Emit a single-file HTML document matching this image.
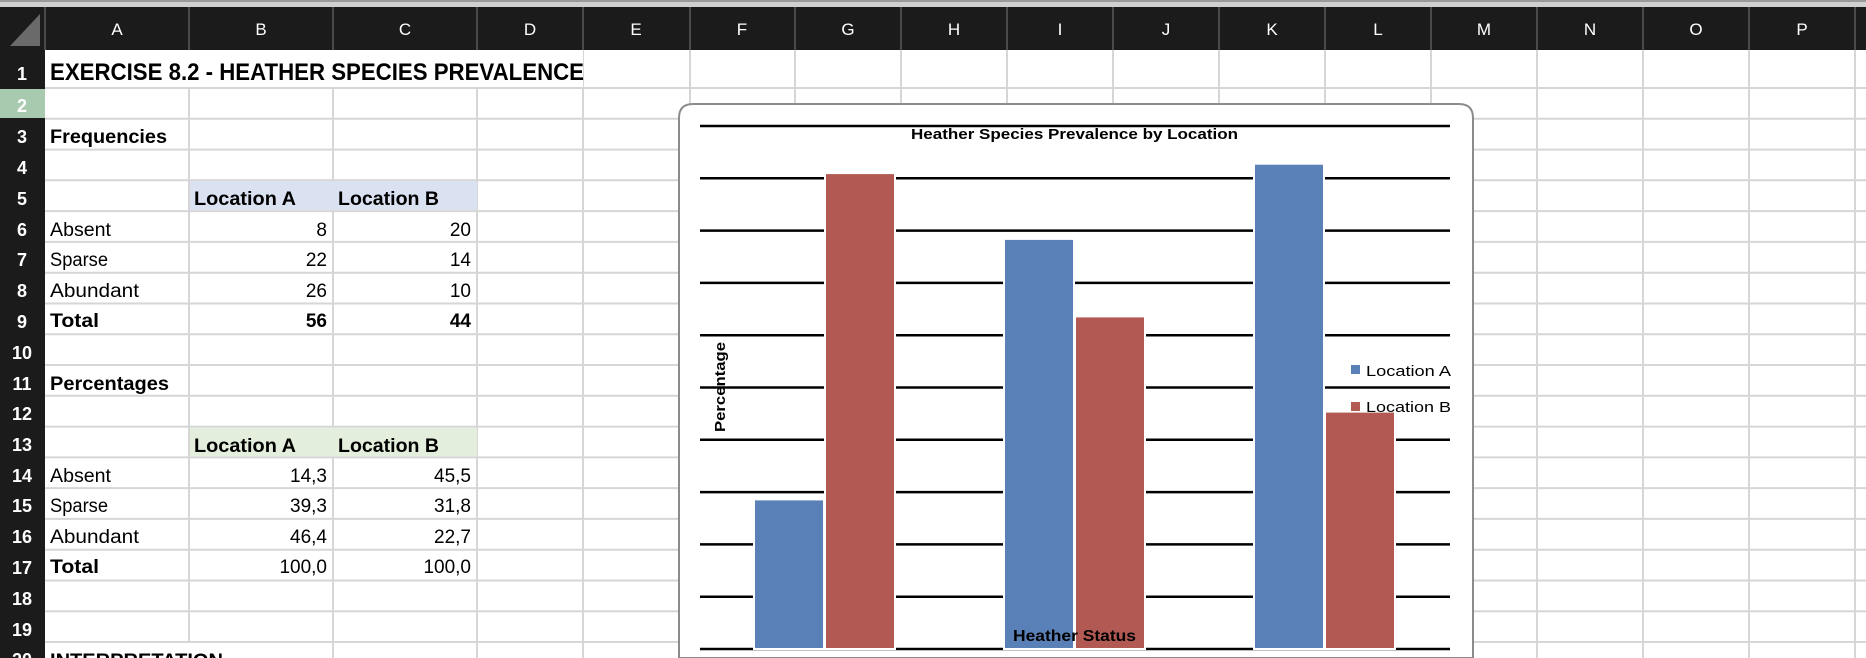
<!DOCTYPE html>
<html><head><meta charset="utf-8"><style>
html,body{margin:0;padding:0;background:#fff;overflow:hidden;width:1866px;height:658px}
svg{display:block;overflow:hidden}
text{font-family:"Liberation Sans",sans-serif}
</style></head><body>
<svg width="1866" height="658" viewBox="0 0 1866 658" xmlns="http://www.w3.org/2000/svg">
<defs><clipPath id="c"><rect x="0" y="0" width="1866" height="658"/></clipPath></defs>
<g clip-path="url(#c)">
<rect x="0" y="0" width="1866" height="658" fill="#fff"/>
<rect x="0" y="0" width="1866" height="7" fill="#d0d0d0"/>
<rect x="0" y="0" width="1866" height="2" fill="#9a9a9a"/>
<rect x="0" y="7" width="1866" height="43" fill="#1b1b1b"/>
<polygon points="10,46 40,46 40,14" fill="#6a6a6a"/>
<g stroke="#4a4a4a" stroke-width="2">
<line x1="45" y1="7" x2="45" y2="50"/><line x1="189" y1="7" x2="189" y2="50"/><line x1="333" y1="7" x2="333" y2="50"/><line x1="477" y1="7" x2="477" y2="50"/><line x1="583" y1="7" x2="583" y2="50"/><line x1="690" y1="7" x2="690" y2="50"/><line x1="795" y1="7" x2="795" y2="50"/><line x1="901" y1="7" x2="901" y2="50"/><line x1="1007" y1="7" x2="1007" y2="50"/><line x1="1113" y1="7" x2="1113" y2="50"/><line x1="1219" y1="7" x2="1219" y2="50"/><line x1="1325" y1="7" x2="1325" y2="50"/><line x1="1431" y1="7" x2="1431" y2="50"/><line x1="1537" y1="7" x2="1537" y2="50"/><line x1="1643" y1="7" x2="1643" y2="50"/><line x1="1749" y1="7" x2="1749" y2="50"/><line x1="1855" y1="7" x2="1855" y2="50"/>
</g>
<g fill="#fff" font-size="17" text-anchor="middle">
<text x="117" y="35">A</text><text x="261" y="35">B</text><text x="405" y="35">C</text><text x="530" y="35">D</text><text x="636" y="35">E</text><text x="742" y="35">F</text><text x="848" y="35">G</text><text x="954" y="35">H</text><text x="1060" y="35">I</text><text x="1166" y="35">J</text><text x="1272" y="35">K</text><text x="1378" y="35">L</text><text x="1484" y="35">M</text><text x="1590" y="35">N</text><text x="1696" y="35">O</text><text x="1802" y="35">P</text>
</g>
<rect x="0" y="50" width="45" height="608" fill="#1b1b1b"/>
<rect x="0" y="89" width="45" height="29" fill="#a8cbb0"/>
<g stroke="#d6d6d6" stroke-width="2">
<line x1="45" y1="88" x2="1866" y2="88"/><line x1="45" y1="118.8" x2="1866" y2="118.8"/><line x1="45" y1="149.6" x2="1866" y2="149.6"/><line x1="45" y1="180.3" x2="1866" y2="180.3"/><line x1="45" y1="211.1" x2="1866" y2="211.1"/><line x1="45" y1="241.9" x2="1866" y2="241.9"/><line x1="45" y1="272.7" x2="1866" y2="272.7"/><line x1="45" y1="303.5" x2="1866" y2="303.5"/><line x1="45" y1="334.2" x2="1866" y2="334.2"/><line x1="45" y1="365" x2="1866" y2="365"/><line x1="45" y1="395.8" x2="1866" y2="395.8"/><line x1="45" y1="426.6" x2="1866" y2="426.6"/><line x1="45" y1="457.4" x2="1866" y2="457.4"/><line x1="45" y1="488.1" x2="1866" y2="488.1"/><line x1="45" y1="518.9" x2="1866" y2="518.9"/><line x1="45" y1="549.7" x2="1866" y2="549.7"/><line x1="45" y1="580.5" x2="1866" y2="580.5"/><line x1="45" y1="611.3" x2="1866" y2="611.3"/><line x1="45" y1="642" x2="1866" y2="642"/>
<line x1="189" y1="50" x2="189" y2="658"/><line x1="333" y1="50" x2="333" y2="658"/><line x1="477" y1="50" x2="477" y2="658"/><line x1="583" y1="50" x2="583" y2="658"/><line x1="690" y1="50" x2="690" y2="658"/><line x1="795" y1="50" x2="795" y2="658"/><line x1="901" y1="50" x2="901" y2="658"/><line x1="1007" y1="50" x2="1007" y2="658"/><line x1="1113" y1="50" x2="1113" y2="658"/><line x1="1219" y1="50" x2="1219" y2="658"/><line x1="1325" y1="50" x2="1325" y2="658"/><line x1="1431" y1="50" x2="1431" y2="658"/><line x1="1537" y1="50" x2="1537" y2="658"/><line x1="1643" y1="50" x2="1643" y2="658"/><line x1="1749" y1="50" x2="1749" y2="658"/><line x1="1855" y1="50" x2="1855" y2="658"/>
</g>
<rect x="46" y="50" width="537" height="37" fill="#fff"/>
<rect x="46" y="643" width="286" height="15" fill="#fff"/>
<rect x="190" y="181.3" width="287" height="28.8" fill="#dae1f1"/>
<rect x="190" y="427.6" width="287" height="28.8" fill="#e3efdc"/>
<g fill="#fff" font-size="18" font-weight="bold" text-anchor="middle">
<text x="22" y="80">1</text><text x="22" y="112">2</text><text x="22" y="143">3</text><text x="22" y="174">4</text><text x="22" y="205">5</text><text x="22" y="236">6</text><text x="22" y="266">7</text><text x="22" y="297">8</text><text x="22" y="328">9</text><text x="22" y="359">10</text><text x="22" y="390">11</text><text x="22" y="420">12</text><text x="22" y="451">13</text><text x="22" y="482">14</text><text x="22" y="512">15</text><text x="22" y="543">16</text><text x="22" y="574">17</text><text x="22" y="605">18</text><text x="22" y="636">19</text><text x="22" y="666">20</text>
</g>
<g fill="#000" font-size="19">
<text x="50" y="80" font-size="24" font-weight="bold" textLength="534" lengthAdjust="spacingAndGlyphs">EXERCISE 8.2 - HEATHER SPECIES PREVALENCE</text>
<text x="50" y="143" font-weight="bold" textLength="117" lengthAdjust="spacingAndGlyphs">Frequencies</text>
<text x="194" y="205" font-weight="bold" textLength="102" lengthAdjust="spacingAndGlyphs">Location A</text>
<text x="338" y="205" font-weight="bold" textLength="101" lengthAdjust="spacingAndGlyphs">Location B</text>
<text x="50" y="236" textLength="61" lengthAdjust="spacingAndGlyphs">Absent</text>
<text x="50" y="266" textLength="58" lengthAdjust="spacingAndGlyphs">Sparse</text>
<text x="50" y="297" textLength="89" lengthAdjust="spacingAndGlyphs">Abundant</text>
<text x="50" y="327" font-weight="bold" textLength="49" lengthAdjust="spacingAndGlyphs">Total</text>
<g text-anchor="end">
<text x="327" y="236">8</text><text x="471" y="236">20</text>
<text x="327" y="266">22</text><text x="471" y="266">14</text>
<text x="327" y="297">26</text><text x="471" y="297">10</text>
<text x="327" y="327" font-weight="bold">56</text><text x="471" y="327" font-weight="bold">44</text>
<text x="327" y="482">14,3</text><text x="471" y="482">45,5</text>
<text x="327" y="512">39,3</text><text x="471" y="512">31,8</text>
<text x="327" y="543">46,4</text><text x="471" y="543">22,7</text>
<text x="327" y="573">100,0</text><text x="471" y="573">100,0</text>
</g>
<text x="50" y="390" font-weight="bold" textLength="119" lengthAdjust="spacingAndGlyphs">Percentages</text>
<text x="194" y="452" font-weight="bold" textLength="102" lengthAdjust="spacingAndGlyphs">Location A</text>
<text x="338" y="452" font-weight="bold" textLength="101" lengthAdjust="spacingAndGlyphs">Location B</text>
<text x="50" y="482" textLength="61" lengthAdjust="spacingAndGlyphs">Absent</text>
<text x="50" y="512" textLength="58" lengthAdjust="spacingAndGlyphs">Sparse</text>
<text x="50" y="543" textLength="89" lengthAdjust="spacingAndGlyphs">Abundant</text>
<text x="50" y="573" font-weight="bold" textLength="49" lengthAdjust="spacingAndGlyphs">Total</text>
<text x="50" y="667" font-weight="bold" textLength="173" lengthAdjust="spacingAndGlyphs">INTERPRETATION</text>
</g>
<path d="M679,658 L679,118 Q679,104 693,104 L1459,104 Q1473,104 1473,118 L1473,658 Z" fill="#fff" stroke="#8c8c8c" stroke-width="2"/>
<g stroke="#000" stroke-width="2.5">
<line x1="700" y1="126" x2="1450" y2="126"/><line x1="700" y1="178.3" x2="1450" y2="178.3"/><line x1="700" y1="230.6" x2="1450" y2="230.6"/><line x1="700" y1="282.9" x2="1450" y2="282.9"/><line x1="700" y1="335.2" x2="1450" y2="335.2"/><line x1="700" y1="387.5" x2="1450" y2="387.5"/><line x1="700" y1="439.8" x2="1450" y2="439.8"/><line x1="700" y1="492.1" x2="1450" y2="492.1"/><line x1="700" y1="544.4" x2="1450" y2="544.4"/><line x1="700" y1="596.7" x2="1450" y2="596.7"/><line x1="700" y1="649" x2="1450" y2="649"/>
</g>
<g stroke="#fff" stroke-width="2">
<rect x="754" y="499.4" width="70" height="149.6" fill="#5a80b8"/>
<rect x="825" y="173.1" width="70" height="475.9" fill="#b15952"/>
<rect x="1004" y="238.9" width="70" height="410.1" fill="#5a80b8"/>
<rect x="1075" y="316.4" width="70" height="332.6" fill="#b15952"/>
<rect x="1254" y="163.7" width="70" height="485.3" fill="#5a80b8"/>
<rect x="1325" y="411.6" width="70" height="237.4" fill="#b15952"/>
</g>
<text x="911" y="139" font-size="15" font-weight="bold" textLength="327" lengthAdjust="spacingAndGlyphs">Heather Species Prevalence by Location</text>
<text transform="translate(725,432) rotate(-90)" font-size="15" font-weight="bold" textLength="90" lengthAdjust="spacingAndGlyphs">Percentage</text>
<text x="1013" y="641" font-size="16" font-weight="bold" textLength="123" lengthAdjust="spacingAndGlyphs">Heather Status</text>
<rect x="1351" y="365" width="9" height="9" fill="#5a80b8"/>
<rect x="1351" y="402" width="9" height="9" fill="#b15952"/>
<text x="1366" y="376" font-size="15" textLength="85" lengthAdjust="spacingAndGlyphs">Location A</text>
<text x="1366" y="412" font-size="15" textLength="85" lengthAdjust="spacingAndGlyphs">Location B</text>
</g>
</svg>
</body></html>
